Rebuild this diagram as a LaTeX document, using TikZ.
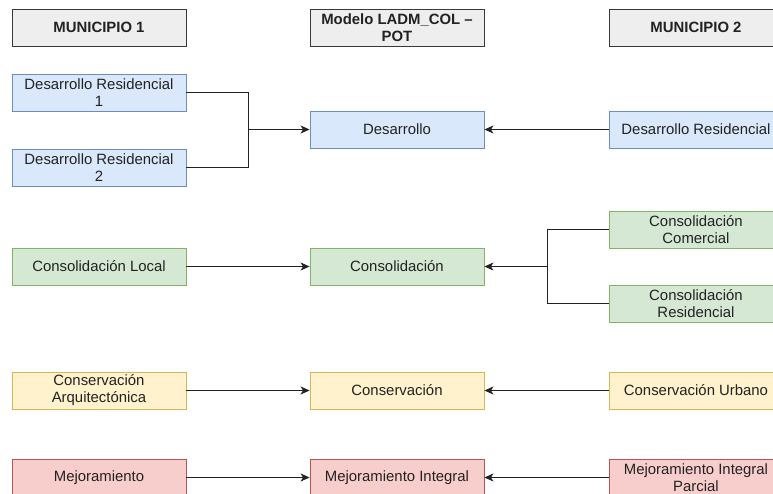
\documentclass[tikz,border=0pt]{standalone}
\usepackage{fontspec}
\setmainfont{Liberation Sans}
\usetikzlibrary{arrows.meta}
\definecolor{bfill}{HTML}{DAE8FC}\definecolor{bdraw}{HTML}{6C8EBF}
\definecolor{gfill}{HTML}{D5E8D4}\definecolor{gdraw}{HTML}{82B366}
\definecolor{yfill}{HTML}{FFF2CC}\definecolor{ydraw}{HTML}{D6B656}
\definecolor{rfill}{HTML}{F8CECC}\definecolor{rdraw}{HTML}{B85450}
\definecolor{hfill}{HTML}{EEEEEE}\definecolor{hdraw}{HTML}{36393D}
\definecolor{lnk}{HTML}{222222}
\definecolor{txt}{HTML}{222222}
\tikzset{
  x=1pt,y=-1pt,
  box/.style={rectangle,minimum width=174pt,minimum height=37pt,inner sep=0pt,align=center,
    line width=0.9pt,text=txt,font=\fontsize{14.9}{17}\selectfont},
  hdr/.style={box,fill=hfill,draw=hdraw,font=\fontsize{14.9}{17}\selectfont\bfseries},
  bbox/.style={box,fill=bfill,draw=bdraw},
  gbox/.style={box,fill=gfill,draw=gdraw},
  ybox/.style={box,fill=yfill,draw=ydraw},
  rbox/.style={box,fill=rfill,draw=rdraw},
  link/.style={draw=lnk,line width=1pt},
  arr/.style={link,-{Stealth[length=9pt,width=8pt,inset=2.5pt]}},
}
\begin{document}
\begin{tikzpicture}
\useasboundingbox (0,0) rectangle (773,493);
\fill[white] (0,0) rectangle (773,493);
% headers
\node[hdr] (h1) at (99,27.5) {MUNICIPIO 1};
\node[hdr] (h2) at (397,27.5) {Modelo LADM\_COL –\\POT};
\node[hdr] (h3) at (696,27.5) {MUNICIPIO 2};
% desarrollo
\node[bbox] (dr1) at (99,92.5) {Desarrollo Residencial\\1};
\node[bbox] (dr2) at (99,167.5) {Desarrollo Residencial\\2};
\node[bbox] (des) at (397,129.5) {Desarrollo};
\node[bbox] (drr) at (696,129.5) {Desarrollo Residencial};
% consolidacion
\node[gbox] (cl) at (99,266.5) {Consolidación Local};
\node[gbox] (con) at (397,266.5) {Consolidación};
\node[gbox] (cc) at (696,229.5) {Consolidación\\Comercial};
\node[gbox] (cr) at (696,303.5) {Consolidación\\Residencial};
% conservacion
\node[ybox] (ca) at (99,390.5) {Conservación\\Arquitectónica};
\node[ybox] (cons) at (397,390.5) {Conservación};
\node[ybox] (cu) at (696,390.5) {Conservación Urbano};
% mejoramiento
\node[rbox] (me) at (99,477.5) {Mejoramiento};
\node[rbox] (mi) at (397,477.5) {Mejoramiento Integral};
\node[rbox] (mp) at (696,477.5) {Mejoramiento Integral\\Parcial};
% connectors
\coordinate (j1) at (248,129.5);
\coordinate (j2) at (547,266.5);
\draw[link] (dr1.east) -| (j1);
\draw[link] (dr2.east) -| (j1);
\draw[arr] (j1) -- (des.west);
\draw[arr] (drr.west) -- (des.east);
\draw[arr] (cl.east) -- (con.west);
\draw[link] (cc.west) -| (j2);
\draw[link] (cr.west) -| (j2);
\draw[arr] (j2) -- (con.east);
\draw[arr] (ca.east) -- (cons.west);
\draw[arr] (cu.west) -- (cons.east);
\draw[arr] (me.east) -- (mi.west);
\draw[arr] (mp.west) -- (mi.east);
\end{tikzpicture}
\end{document}
